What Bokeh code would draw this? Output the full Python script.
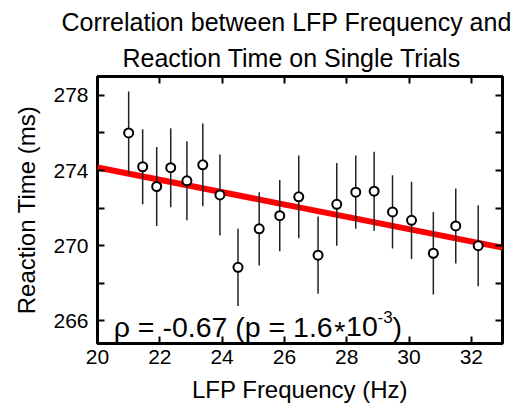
from bokeh.plotting import figure
from bokeh.models import LinearAxis, FixedTicker, Title, Label, Range1d
from bokeh.embed import file_html
from bokeh.resources import INLINE

# ---- data ----
freq = [21.0, 21.45, 21.9, 22.35, 22.87, 23.38, 23.93, 24.51, 25.19, 25.85,
        26.46, 27.08, 27.68, 28.29, 28.88, 29.47, 30.08, 30.78, 31.5, 32.22]
rt = [276.0, 274.2, 273.15, 274.15, 273.45, 274.3, 272.7, 268.85, 270.9, 271.6,
      272.6, 269.5, 272.2, 272.85, 272.9, 271.8, 271.35, 269.6, 271.05, 270.0]
err = [2.2, 2.0, 2.1, 2.1, 2.1, 2.2, 2.15, 2.05, 1.95, 1.9,
       2.2, 2.05, 2.2, 1.95, 2.1, 1.95, 2.05, 2.2, 2.0, 2.15]
fit_x = [20.0, 33.0]
fit_y = [274.16, 269.9]
x_ticks = [20, 22, 24, 26, 28, 30, 32]
y_major = [266, 270, 274, 278]
y_minor = [268, 272, 276]
title_line1 = "Correlation between LFP Frequency and"
title_line2 = "Reaction Time on Single Trials"
x_label = "LFP Frequency (Hz)"
y_label = "Reaction Time (ms)"
stat_a = "ρ = -0.67 (p = 1.6"
stat_star = "*"
stat_b = "10"
stat_sup = "-3"
stat_close = ")"

lo = [r - e for r, e in zip(rt, err)]
hi = [r + e for r, e in zip(rt, err)]

FONT = "Liberation Sans"

p = figure(width=525, height=411, output_backend="svg", toolbar_location=None,
           x_range=Range1d(20, 33), y_range=Range1d(264.8, 279.0),
           min_border_left=97, min_border_right=23, min_border_top=76,
           min_border_bottom=68)

left_axis = p.left[0]
bottom_axis = p.below[0]

p.title.text = title_line1
p.title.align = "left"
p.title.offset = -36
p.title.text_font = FONT
p.title.text_font_size = "25px"
p.title.text_font_style = "normal"
p.title.text_color = "black"
p.title.standoff = 2

p.grid.visible = False
p.outline_line_color = "black"
p.outline_line_width = 3
p.background_fill_color = "white"
p.border_fill_color = "white"

xt = FixedTicker(ticks=x_ticks, minor_ticks=[])
yt = FixedTicker(ticks=y_major, minor_ticks=y_minor)

top_axis = LinearAxis(ticker=xt)
right_axis = LinearAxis(ticker=yt)
p.add_layout(top_axis, "above")
p.add_layout(right_axis, "right")

t2 = Title(text=title_line2, align="left", offset=25, text_font=FONT,
           text_font_size="25px", text_font_style="normal",
           text_color="black", standoff=10)
p.add_layout(t2, "above")

for ax in [bottom_axis, left_axis, top_axis, right_axis]:
    ax.axis_line_color = None
    ax.major_tick_in = 7
    ax.major_tick_out = 0
    ax.minor_tick_in = 7
    ax.minor_tick_out = 0
    ax.major_tick_line_width = 2
    ax.minor_tick_line_width = 2
    ax.major_tick_line_color = "black"
    ax.minor_tick_line_color = "black"
    ax.major_label_text_font = FONT
    ax.major_label_text_font_size = "21px"
    ax.major_label_text_color = "black"
    ax.axis_label_text_font = FONT
    ax.axis_label_text_font_size = "24px"
    ax.axis_label_text_font_style = "normal"
    ax.axis_label_text_color = "black"

bottom_axis.ticker = xt
left_axis.ticker = yt
bottom_axis.axis_label = x_label
left_axis.axis_label = y_label
bottom_axis.major_label_standoff = 6
bottom_axis.axis_label_standoff = 9
left_axis.major_label_standoff = 9
left_axis.axis_label_standoff = 10

top_axis.major_label_overrides = {t: "" for t in x_ticks}
right_axis.major_label_overrides = {t: "" for t in y_major}
for ax in [top_axis, right_axis]:
    ax.major_label_standoff = 0
    ax.axis_label_standoff = 0

p.line(fit_x, fit_y, line_color="#ff0000", line_width=6)
p.segment(freq, lo, freq, hi, line_color="#222222", line_width=1.5)
p.scatter(freq, rt, marker="circle", size=9, fill_color="white",
          line_color="black", line_width=2)

def lab(x, y, text, size):
    p.add_layout(Label(x=x, y=y, text=text, text_font=FONT,
                       text_font_size=size, text_baseline="alphabetic",
                       text_color="black"))

lab(20.52, 265.68, stat_a, "28.5px")
lab(27.60, 265.44, stat_star, "28.5px")
lab(27.98, 265.68, stat_b, "28.5px")
lab(28.99, 266.21, stat_sup, "17px")
lab(29.47, 265.68, stat_close, "28.5px")

open("out.html", "w").write(file_html(p, INLINE))
